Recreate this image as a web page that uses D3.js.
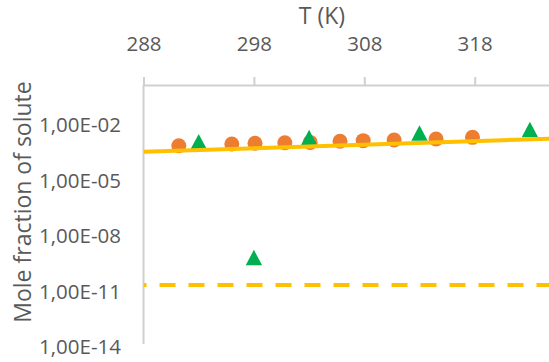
<!DOCTYPE html>
<html>
<head>
<meta charset="utf-8">
<script src="https://cdn.jsdelivr.net/npm/d3@7"></script>
<style>
  html, body { margin: 0; padding: 0; background: #fff; }
  svg { display: block; }
  text { font-family: "Open Sans", "Noto Sans", sans-serif; fill: #595959; }
</style>
</head>
<body>
<svg id="chart" width="549" height="362"></svg>
<script>
// ---- data ----
const xTicks = [288, 298, 308, 318];
const yTicks = [1e-2, 1e-5, 1e-8, 1e-11, 1e-14];

const circleT = [291.2, 296.0, 298.1, 300.8, 303.1, 305.8, 307.9, 310.7, 314.5, 317.8];
const circleX = [5.2e-4, 6.5e-4, 7.1e-4, 7.6e-4, 7.9e-4, 9.1e-4, 9.8e-4, 1.07e-3, 1.2e-3, 1.48e-3];

const triT = [293.0, 298.0, 303.0, 313.0, 323.0];
const triX = [8.7e-4, 4.7e-10, 1.45e-3, 2.55e-3, 3.9e-3];

const fitT = [288, 325];
const fitX = [2.45e-4, 1.27e-3];

const dashT = [288, 325];
const dashX = [1.55e-11, 1.55e-11];

// ---- layout ----
const svg = d3.select("#chart");
const mLeft = 143.5, mTop = 85, mBottom = 344;
const x = d3.scaleLinear().domain([288, 325]).range([mLeft, mLeft + 37 * 11.04]);
const y = d3.scaleLog().domain([1e-14, 1]).range([mBottom, mTop]);

const axisColor = "#d0d0d0";

// y axis line
svg.append("line")
  .attr("x1", mLeft).attr("x2", mLeft)
  .attr("y1", mTop).attr("y2", mBottom)
  .attr("stroke", axisColor).attr("stroke-width", 2);

// x axis (top)
const xAxis = svg.append("g")
  .attr("transform", `translate(0,${mTop})`)
  .call(d3.axisTop(x).tickValues(xTicks).tickSize(8).tickPadding(26).tickFormat(d3.format("d")));
xAxis.select(".domain").attr("stroke", axisColor).attr("stroke-width", 2);
xAxis.selectAll(".tick line").attr("stroke", axisColor).attr("stroke-width", 2);
xAxis.selectAll(".tick text")
  .attr("fill", "#595959")
  .style("font-size", "20.5px")
  .style("font-family", "'Open Sans', sans-serif");

// y tick labels
const fmtY = d => {
  const e = Math.round(Math.log10(d));
  const s = e < 0 ? "-" : "+";
  const a = Math.abs(e);
  return "1,00E" + s + (a < 10 ? "0" + a : a);
};
svg.append("g").selectAll("text").data(yTicks).join("text")
  .attr("x", 121)
  .attr("y", d => y(d) + 2)
  .attr("text-anchor", "end")
  .attr("dominant-baseline", "central")
  .style("font-size", "20.5px")
  .text(fmtY);

// axis titles
svg.append("text")
  .attr("x", 322).attr("y", 24)
  .attr("text-anchor", "middle")
  .style("font-size", "23px")
  .text("T (K)");

svg.append("text")
  .attr("transform", "translate(31,202) rotate(-90)")
  .attr("text-anchor", "middle")
  .style("font-size", "23px")
  .text("Mole fraction of solute");

// clip to plot area
svg.append("clipPath").attr("id", "clip")
  .append("rect").attr("x", mLeft).attr("y", mTop - 10).attr("width", 549 - mLeft).attr("height", mBottom - mTop + 20);

const plot = svg.append("g");

// circles
plot.selectAll("circle.pt").data(circleT.map((t, i) => [t, circleX[i]])).join("circle")
  .attr("class", "pt")
  .attr("cx", d => x(d[0])).attr("cy", d => y(d[1]))
  .attr("r", 7.5)
  .attr("fill", "#ED7D31");

// triangles (centered on bounding box, like Excel markers)
const triPath = "M0,-7.7L8.2,7.7L-8.2,7.7Z";
plot.selectAll("path.tri").data(triT.map((t, i) => [t, triX[i]])).join("path")
  .attr("class", "tri")
  .attr("transform", d => `translate(${x(d[0])},${y(d[1])})`)
  .attr("d", triPath)
  .attr("fill", "#00B050");

// fitted solid line
const line = d3.line().x(d => x(d[0])).y(d => y(d[1]));
plot.append("path")
  .datum(fitT.map((t, i) => [t, fitX[i]]))
  .attr("clip-path", "url(#clip)")
  .attr("d", line)
  .attr("fill", "none")
  .attr("stroke", "#FFC000")
  .attr("stroke-width", 4);

// dashed line
plot.append("path")
  .datum(dashT.map((t, i) => [t, dashX[i]]))
  .attr("clip-path", "url(#clip)")
  .attr("d", line)
  .attr("fill", "none")
  .attr("stroke", "#FFC000")
  .attr("stroke-width", 4)
  .attr("stroke-dasharray", "16 13")
  .attr("stroke-dashoffset", 13);
</script>
</body>
</html>
